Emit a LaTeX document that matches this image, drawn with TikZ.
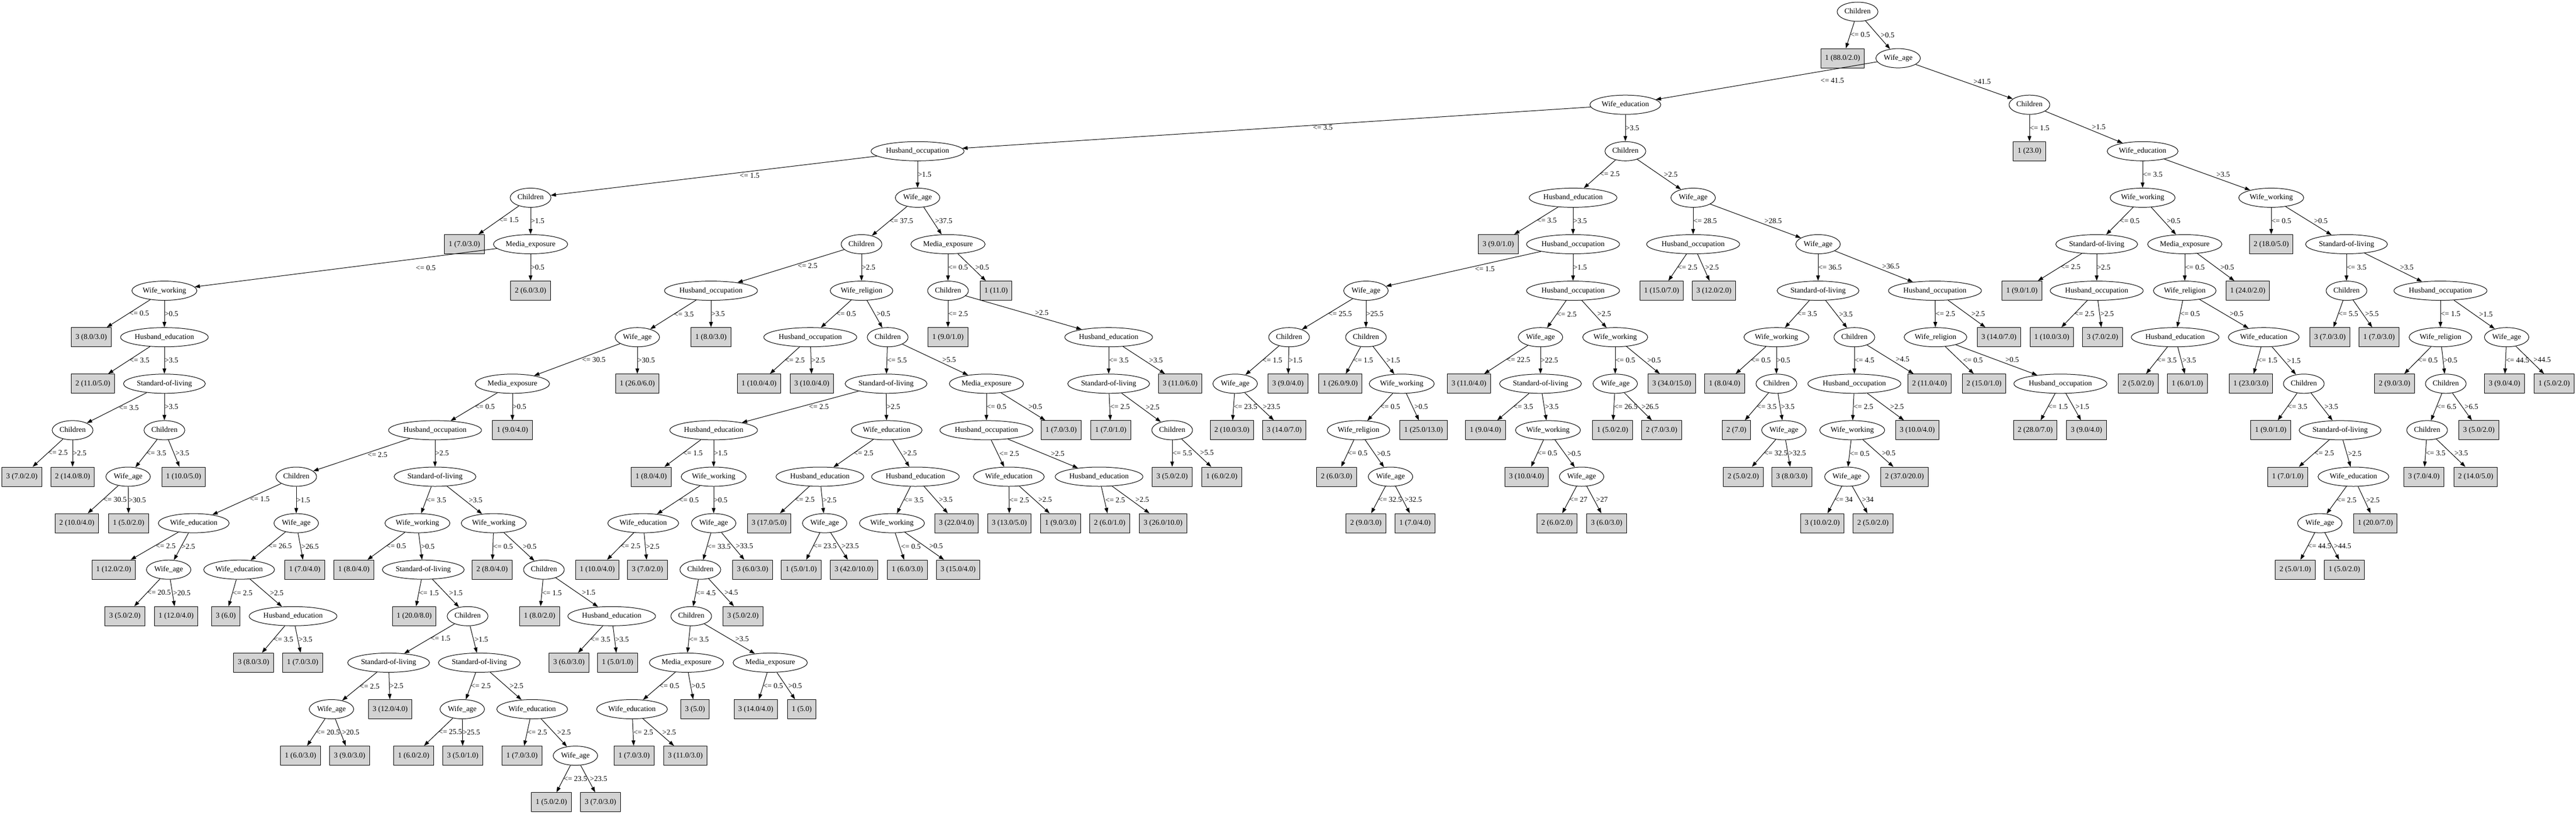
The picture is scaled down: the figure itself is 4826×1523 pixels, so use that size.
\documentclass[tikz,border=0pt]{standalone}
\usepackage{fontspec}
\setmainfont{Liberation Serif}
\usetikzlibrary{shapes.geometric,arrows.meta,calc}

\definecolor{leafgray}{RGB}{211,211,211}
\newcommand\tnfont{\fontsize{14}{16}\selectfont}
% test node, leaf, branch (label shifted clear of the line) and branch with a fixed shift
\newcommand\dnode[4]{\node[attr] (#1) at (#2,#3) {#4};}
\newcommand\dleaf[4]{\node[leafbox] (#1) at (#2,#3) {#4};}
\newcommand\brn[3]{\draw[branch] let \p1=(#1.center), \p2=(#2.center), \n2={\x2-\x1}, \n3={abs(\y2-\y1)},
  \n1={ifthenelse((\n2)>0, 6*(\n2)/(\n3), max(0, 7*(-(\n2))/(\n3)-10))} in
  (#1) -- node[cond, midway, xshift=\n1] {#3} (#2);}
\newcommand\brnx[4]{\draw[branch] (#2) -- node[cond, midway, xshift=#1pt] {#4} (#3);}

\begin{document}
\begin{tikzpicture}[x=1pt, y=-87.1pt,
  attr/.style={ellipse, draw, line width=1pt, minimum height=36pt, inner xsep=2.5pt, inner ysep=2pt,
    text height=10pt, text depth=3pt, font=\tnfont},
  leafbox/.style={rectangle, draw, line width=1pt, fill=leafgray, minimum height=36pt, inner xsep=8pt,
    text height=10pt, text depth=3pt, font=\tnfont},
  cond/.style={anchor=west, inner sep=0pt, font=\tnfont},
  branch/.style={line width=1pt, -{Triangle[length=10pt, width=7pt]}}]
\path[use as bounding box, fill=white] (0pt,0pt) rectangle (4826pt,-1523pt);
\begin{scope}[yshift=-22pt]
\dnode{n1}{3480}{0}{Children}
\dleaf{n2}{3452}{1}{1 (88.0/2.0)} \brn{n1}{n2}{<= 0.5}
\dnode{n3}{3556}{1}{Wife\_age} \brn{n1}{n3}{>0.5}
\dnode{n4}{3045}{2}{Wife\_education} \brnx{101}{n3}{n4}{<= 41.5}
\dnode{n5}{1719}{3}{Husband\_occupation} \brnx{68}{n4}{n5}{<= 3.5}
% Wife_education <= 3.5
\dnode{n6}{994}{4}{Children} \brn{n5}{n6}{<= 1.5}
\dleaf{n7}{870}{5}{1 (7.0/3.0)} \brn{n6}{n7}{<= 1.5}
\dnode{n8}{994}{5}{Media\_exposure} \brn{n6}{n8}{>1.5}
\dnode{n9}{308}{6}{Wife\_working} \brnx{131}{n8}{n9}{<= 0.5}
\dleaf{n10}{171}{7}{3 (8.0/3.0)} \brn{n9}{n10}{<= 0.5}
\dnode{n11}{308}{7}{Husband\_education} \brn{n9}{n11}{>0.5}
\dleaf{n12}{174}{8}{2 (11.0/5.0)} \brn{n11}{n12}{<= 3.5}
\dnode{n13}{308}{8}{Standard-of-living} \brn{n11}{n13}{>3.5}
\dnode{n14}{136}{9}{Children} \brn{n13}{n14}{<= 3.5}
\dleaf{n15}{41}{10}{3 (7.0/2.0)} \brn{n14}{n15}{<= 2.5}
\dleaf{n16}{136}{10}{2 (14.0/8.0)} \brn{n14}{n16}{>2.5}
\dnode{n17}{308}{9}{Children} \brn{n13}{n17}{>3.5}
\dnode{n18}{240}{10}{Wife\_age} \brn{n17}{n18}{<= 3.5}
\dleaf{n19}{144}{11}{2 (10.0/4.0)} \brn{n18}{n19}{<= 30.5}
\dleaf{n20}{241}{11}{1 (5.0/2.0)} \brn{n18}{n20}{>30.5}
\dleaf{n21}{344}{10}{1 (10.0/5.0)} \brn{n17}{n21}{>3.5}
\dleaf{n22}{994}{6}{2 (6.0/3.0)} \brn{n8}{n22}{>0.5}
\dnode{n23}{1719}{4}{Wife\_age} \brn{n5}{n23}{>1.5}
\dnode{n24}{1614}{5}{Children} \brn{n23}{n24}{<= 37.5}
\dnode{n25}{1332}{6}{Husband\_occupation} \brn{n24}{n25}{<= 2.5}
\dnode{n26}{1194}{7}{Wife\_age} \brn{n25}{n26}{<= 3.5}
\dnode{n27}{960}{8}{Media\_exposure} \brn{n26}{n27}{<= 30.5}
\dnode{n28}{815}{9}{Husband\_occupation} \brn{n27}{n28}{<= 0.5}
\dnode{n29}{555}{10}{Children} \brn{n28}{n29}{<= 2.5}
\dnode{n30}{363}{11}{Wife\_education} \brn{n29}{n30}{<= 1.5}
\dleaf{n31}{213}{12}{1 (12.0/2.0)} \brn{n30}{n31}{<= 2.5}
\dnode{n32}{316}{12}{Wife\_age} \brn{n30}{n32}{>2.5}
\dleaf{n33}{234}{13}{3 (5.0/2.0)} \brn{n32}{n33}{<= 20.5}
\dleaf{n34}{330}{13}{1 (12.0/4.0)} \brn{n32}{n34}{>20.5}
\dnode{n35}{555}{11}{Wife\_age} \brn{n29}{n35}{>1.5}
\dnode{n36}{448}{12}{Wife\_education} \brn{n35}{n36}{<= 26.5}
\dleaf{n37}{423}{13}{3 (6.0)} \brn{n36}{n37}{<= 2.5}
\dnode{n38}{549}{13}{Husband\_education} \brn{n36}{n38}{>2.5}
\dleaf{n39}{475}{14}{3 (8.0/3.0)} \brn{n38}{n39}{<= 3.5}
\dleaf{n40}{567}{14}{1 (7.0/3.0)} \brn{n38}{n40}{>3.5}
\dleaf{n41}{571}{12}{1 (7.0/4.0)} \brn{n35}{n41}{>26.5}
\dnode{n42}{815}{10}{Standard-of-living} \brn{n28}{n42}{>2.5}
\dnode{n43}{782}{11}{Wife\_working} \brn{n42}{n43}{<= 3.5}
\dleaf{n44}{663}{12}{1 (8.0/4.0)} \brn{n43}{n44}{<= 0.5}
\dnode{n45}{793}{12}{Standard-of-living} \brn{n43}{n45}{>0.5}
\dleaf{n46}{776}{13}{1 (20.0/8.0)} \brn{n45}{n46}{<= 1.5}
\dnode{n47}{876}{13}{Children} \brn{n45}{n47}{>1.5}
\dnode{n48}{728}{14}{Standard-of-living} \brn{n47}{n48}{<= 1.5}
\dnode{n49}{621}{15}{Wife\_age} \brn{n48}{n49}{<= 2.5}
\dleaf{n50}{563}{16}{1 (6.0/3.0)} \brn{n49}{n50}{<= 20.5}
\dleaf{n51}{655}{16}{3 (9.0/3.0)} \brn{n49}{n51}{>20.5}
\dleaf{n52}{731}{15}{3 (12.0/4.0)} \brn{n48}{n52}{>2.5}
\dnode{n53}{898}{14}{Standard-of-living} \brn{n47}{n53}{>1.5}
\dnode{n54}{866}{15}{Wife\_age} \brn{n53}{n54}{<= 2.5}
\dleaf{n55}{775}{16}{1 (6.0/2.0)} \brn{n54}{n55}{<= 25.5}
\dleaf{n56}{867}{16}{3 (5.0/1.0)} \brn{n54}{n56}{>25.5}
\dnode{n57}{997}{15}{Wife\_education} \brn{n53}{n57}{>2.5}
\dleaf{n58}{978}{16}{1 (7.0/3.0)} \brn{n57}{n58}{<= 2.5}
\dnode{n59}{1078}{16}{Wife\_age} \brn{n57}{n59}{>2.5}
\dleaf{n60}{1033}{17}{1 (5.0/2.0)} \brn{n59}{n60}{<= 23.5}
\dleaf{n61}{1125}{17}{3 (7.0/3.0)} \brn{n59}{n61}{>23.5}
\dnode{n62}{925}{11}{Wife\_working} \brn{n42}{n62}{>3.5}
\dleaf{n63}{922}{12}{2 (8.0/4.0)} \brn{n62}{n63}{<= 0.5}
\dnode{n64}{1019}{12}{Children} \brn{n62}{n64}{>0.5}
\dleaf{n65}{1011}{13}{1 (8.0/2.0)} \brn{n64}{n65}{<= 1.5}
\dnode{n66}{1146}{13}{Husband\_education} \brn{n64}{n66}{>1.5}
\dleaf{n67}{1066}{14}{3 (6.0/3.0)} \brn{n66}{n67}{<= 3.5}
\dleaf{n68}{1157}{14}{1 (5.0/1.0)} \brn{n66}{n68}{>3.5}
\dleaf{n69}{960}{9}{1 (9.0/4.0)} \brn{n27}{n69}{>0.5}
\dleaf{n70}{1194}{8}{1 (26.0/6.0)} \brn{n26}{n70}{>30.5}
\dleaf{n71}{1332}{7}{1 (8.0/3.0)} \brn{n25}{n71}{>3.5}
\dnode{n72}{1614}{6}{Wife\_religion} \brn{n24}{n72}{>2.5}
\dnode{n73}{1518}{7}{Husband\_occupation} \brn{n72}{n73}{<= 0.5}
\dleaf{n74}{1422}{8}{1 (10.0/4.0)} \brn{n73}{n74}{<= 2.5}
\dleaf{n75}{1521}{8}{3 (10.0/4.0)} \brn{n73}{n75}{>2.5}
\dnode{n76}{1663}{7}{Children} \brn{n72}{n76}{>0.5}
\dnode{n77}{1660}{8}{Standard-of-living} \brn{n76}{n77}{<= 5.5}
\dnode{n78}{1337}{9}{Husband\_education} \brn{n77}{n78}{<= 2.5}
\dleaf{n79}{1220}{10}{1 (8.0/4.0)} \brn{n78}{n79}{<= 1.5}
\dnode{n80}{1337}{10}{Wife\_working} \brn{n78}{n80}{>1.5}
\dnode{n81}{1205}{11}{Wife\_education} \brn{n80}{n81}{<= 0.5}
\dleaf{n82}{1119}{12}{1 (10.0/4.0)} \brn{n81}{n82}{<= 2.5}
\dleaf{n83}{1213}{12}{3 (7.0/2.0)} \brn{n81}{n83}{>2.5}
\dnode{n84}{1337}{11}{Wife\_age} \brn{n80}{n84}{>0.5}
\dnode{n85}{1312}{12}{Children} \brn{n84}{n85}{<= 33.5}
\dnode{n86}{1295}{13}{Children} \brn{n85}{n86}{<= 4.5}
\dnode{n87}{1286}{14}{Media\_exposure} \brn{n86}{n87}{<= 3.5}
\dnode{n88}{1184}{15}{Wife\_education} \brn{n87}{n88}{<= 0.5}
\dleaf{n89}{1188}{16}{1 (7.0/3.0)} \brn{n88}{n89}{<= 2.5}
\dleaf{n90}{1284}{16}{3 (11.0/3.0)} \brn{n88}{n90}{>2.5}
\dleaf{n91}{1302}{15}{3 (5.0)} \brn{n87}{n91}{>0.5}
\dnode{n92}{1443}{14}{Media\_exposure} \brn{n86}{n92}{>3.5}
\dleaf{n93}{1416}{15}{3 (14.0/4.0)} \brn{n92}{n93}{<= 0.5}
\dleaf{n94}{1502}{15}{1 (5.0)} \brn{n92}{n94}{>0.5}
\dleaf{n95}{1392}{13}{3 (5.0/2.0)} \brn{n85}{n95}{>4.5}
\dleaf{n96}{1410}{12}{3 (6.0/3.0)} \brn{n84}{n96}{>33.5}
\dnode{n97}{1661}{9}{Wife\_education} \brn{n77}{n97}{>2.5}
\dnode{n98}{1536}{10}{Husband\_education} \brn{n97}{n98}{<= 2.5}
\dleaf{n99}{1441}{11}{3 (17.0/5.0)} \brn{n98}{n99}{<= 2.5}
\dnode{n100}{1545}{11}{Wife\_age} \brn{n98}{n100}{>2.5}
\dleaf{n101}{1501}{12}{1 (5.0/1.0)} \brn{n100}{n101}{<= 23.5}
\dleaf{n102}{1600}{12}{3 (42.0/10.0)} \brn{n100}{n102}{>23.5}
\dnode{n103}{1715}{10}{Husband\_education} \brn{n97}{n103}{>2.5}
\dnode{n104}{1671}{11}{Wife\_working} \brn{n103}{n104}{<= 3.5}
\dleaf{n105}{1700}{12}{1 (6.0/3.0)} \brn{n104}{n105}{<= 0.5}
\dleaf{n106}{1795}{12}{3 (15.0/4.0)} \brn{n104}{n106}{>0.5}
\dleaf{n107}{1792}{11}{3 (22.0/4.0)} \brn{n103}{n107}{>3.5}
\dnode{n108}{1848}{8}{Media\_exposure} \brn{n76}{n108}{>5.5}
\dnode{n109}{1848}{9}{Husband\_occupation} \brn{n108}{n109}{<= 0.5}
\dnode{n110}{1890}{10}{Wife\_education} \brn{n109}{n110}{<= 2.5}
\dleaf{n111}{1891}{11}{3 (13.0/5.0)} \brn{n110}{n111}{<= 2.5}
\dleaf{n112}{1987}{11}{1 (9.0/3.0)} \brn{n110}{n112}{>2.5}
\dnode{n113}{2059}{10}{Husband\_education} \brn{n109}{n113}{>2.5}
\dleaf{n114}{2079}{11}{2 (6.0/1.0)} \brn{n113}{n114}{<= 2.5}
\dleaf{n115}{2179}{11}{3 (26.0/10.0)} \brn{n113}{n115}{>2.5}
\dleaf{n116}{1988}{9}{1 (7.0/3.0)} \brn{n108}{n116}{>0.5}
\dnode{n117}{1776}{5}{Media\_exposure} \brn{n23}{n117}{>37.5}
\dnode{n118}{1776}{6}{Children} \brn{n117}{n118}{<= 0.5}
\dleaf{n119}{1776}{7}{1 (9.0/1.0)} \brn{n118}{n119}{<= 2.5}
\dnode{n120}{2077}{7}{Husband\_education} \brn{n118}{n120}{>2.5}
\dnode{n121}{2077}{8}{Standard-of-living} \brn{n120}{n121}{<= 3.5}
\dleaf{n122}{2081}{9}{1 (7.0/1.0)} \brn{n121}{n122}{<= 2.5}
\dnode{n123}{2196}{9}{Children} \brn{n121}{n123}{>2.5}
\dleaf{n124}{2196}{10}{3 (5.0/2.0)} \brn{n123}{n124}{<= 5.5}
\dleaf{n125}{2289}{10}{1 (6.0/2.0)} \brn{n123}{n125}{>5.5}
\dleaf{n126}{2211}{8}{3 (11.0/6.0)} \brn{n120}{n126}{>3.5}
\dleaf{n127}{1866}{6}{1 (11.0)} \brn{n117}{n127}{>0.5}
% Wife_education > 3.5
\dnode{n128}{3045}{3}{Children} \brn{n4}{n128}{>3.5}
\dnode{n129}{2947}{4}{Husband\_education} \brn{n128}{n129}{<= 2.5}
\dleaf{n130}{2807}{5}{3 (9.0/1.0)} \brn{n129}{n130}{<= 3.5}
\dnode{n131}{2947}{5}{Husband\_occupation} \brn{n129}{n131}{>3.5}
\dnode{n132}{2559}{6}{Wife\_age} \brn{n131}{n132}{<= 1.5}
\dnode{n133}{2415}{7}{Children} \brn{n132}{n133}{<= 25.5}
\dnode{n134}{2314}{8}{Wife\_age} \brn{n133}{n134}{<= 1.5}
\dleaf{n135}{2308}{9}{2 (10.0/3.0)} \brn{n134}{n135}{<= 23.5}
\dleaf{n136}{2406}{9}{3 (14.0/7.0)} \brn{n134}{n136}{>23.5}
\dleaf{n137}{2413}{8}{3 (9.0/4.0)} \brn{n133}{n137}{>1.5}
\dnode{n138}{2559}{7}{Children} \brn{n132}{n138}{>25.5}
\dleaf{n139}{2511}{8}{1 (26.0/9.0)} \brn{n138}{n139}{<= 1.5}
\dnode{n140}{2626}{8}{Wife\_working} \brn{n138}{n140}{>1.5}
\dnode{n141}{2545}{9}{Wife\_religion} \brn{n140}{n141}{<= 0.5}
\dleaf{n142}{2504}{10}{2 (6.0/3.0)} \brn{n141}{n142}{<= 0.5}
\dnode{n143}{2605}{10}{Wife\_age} \brn{n141}{n143}{>0.5}
\dleaf{n144}{2559}{11}{2 (9.0/3.0)} \brn{n143}{n144}{<= 32.5}
\dleaf{n145}{2651}{11}{1 (7.0/4.0)} \brn{n143}{n145}{>32.5}
\dleaf{n146}{2667}{9}{1 (25.0/13.0)} \brn{n140}{n146}{>0.5}
\dnode{n147}{2947}{6}{Husband\_occupation} \brn{n131}{n147}{>1.5}
\dnode{n148}{2886}{7}{Wife\_age} \brn{n147}{n148}{<= 2.5}
\dleaf{n149}{2752}{8}{3 (11.0/4.0)} \brn{n148}{n149}{<= 22.5}
\dnode{n150}{2886}{8}{Standard-of-living} \brn{n148}{n150}{>22.5}
\dleaf{n151}{2783}{9}{1 (9.0/4.0)} \brn{n150}{n151}{<= 3.5}
\dnode{n152}{2900}{9}{Wife\_working} \brn{n150}{n152}{>3.5}
\dleaf{n153}{2860}{10}{3 (10.0/4.0)} \brn{n152}{n153}{<= 0.5}
\dnode{n154}{2963}{10}{Wife\_age} \brn{n152}{n154}{>0.5}
\dleaf{n155}{2917}{11}{2 (6.0/2.0)} \brn{n154}{n155}{<= 27}
\dleaf{n156}{3010}{11}{3 (6.0/3.0)} \brn{n154}{n156}{>27}
\dnode{n157}{3026}{7}{Wife\_working} \brn{n147}{n157}{>2.5}
\dnode{n158}{3026}{8}{Wife\_age} \brn{n157}{n158}{<= 0.5}
\dleaf{n159}{3021}{9}{1 (5.0/2.0)} \brn{n158}{n159}{<= 26.5}
\dleaf{n160}{3113}{9}{2 (7.0/3.0)} \brn{n158}{n160}{>26.5}
\dleaf{n161}{3132}{8}{3 (34.0/15.0)} \brn{n157}{n161}{>0.5}
\dnode{n162}{3172}{4}{Wife\_age} \brn{n128}{n162}{>2.5}
\dnode{n163}{3172}{5}{Husband\_occupation} \brn{n162}{n163}{<= 28.5}
\dleaf{n164}{3113}{6}{1 (15.0/7.0)} \brn{n163}{n164}{<= 2.5}
\dleaf{n165}{3211}{6}{3 (12.0/2.0)} \brn{n163}{n165}{>2.5}
\dnode{n166}{3406}{5}{Wife\_age} \brn{n162}{n166}{>28.5}
\dnode{n167}{3406}{6}{Standard-of-living} \brn{n166}{n167}{<= 36.5}
\dnode{n168}{3328}{7}{Wife\_working} \brn{n167}{n168}{<= 3.5}
\dleaf{n169}{3231}{8}{1 (8.0/4.0)} \brn{n168}{n169}{<= 0.5}
\dnode{n170}{3328}{8}{Children} \brn{n168}{n170}{>0.5}
\dleaf{n171}{3253}{9}{2 (7.0)} \brn{n170}{n171}{<= 3.5}
\dnode{n172}{3342}{9}{Wife\_age} \brn{n170}{n172}{>3.5}
\dleaf{n173}{3266}{10}{2 (5.0/2.0)} \brn{n172}{n173}{<= 32.5}
\dleaf{n174}{3357}{10}{3 (8.0/3.0)} \brn{n172}{n174}{>32.5}
\dnode{n175}{3474}{7}{Children} \brn{n167}{n175}{>3.5}
\dnode{n176}{3474}{8}{Husband\_occupation} \brn{n175}{n176}{<= 4.5}
\dnode{n177}{3470}{9}{Wife\_working} \brn{n176}{n177}{<= 2.5}
\dnode{n178}{3460}{10}{Wife\_age} \brn{n177}{n178}{<= 0.5}
\dleaf{n179}{3414}{11}{3 (10.0/2.0)} \brn{n178}{n179}{<= 34}
\dleaf{n180}{3509}{11}{2 (5.0/2.0)} \brn{n178}{n180}{>34}
\dleaf{n181}{3568}{10}{2 (37.0/20.0)} \brn{n177}{n181}{>0.5}
\dleaf{n182}{3592}{9}{3 (10.0/4.0)} \brn{n176}{n182}{>2.5}
\dleaf{n183}{3615}{8}{2 (11.0/4.0)} \brn{n175}{n183}{>4.5}
\dnode{n184}{3625}{6}{Husband\_occupation} \brn{n166}{n184}{>36.5}
\dnode{n185}{3626}{7}{Wife\_religion} \brn{n184}{n185}{<= 2.5}
\dleaf{n186}{3717}{8}{2 (15.0/1.0)} \brn{n185}{n186}{<= 0.5}
\dnode{n187}{3860}{8}{Husband\_occupation} \brn{n185}{n187}{>0.5}
\dleaf{n188}{3813}{9}{2 (28.0/7.0)} \brn{n187}{n188}{<= 1.5}
\dleaf{n189}{3909}{9}{3 (9.0/4.0)} \brn{n187}{n189}{>1.5}
\dleaf{n190}{3745}{7}{3 (14.0/7.0)} \brn{n184}{n190}{>2.5}
% Wife_age > 41.5
\dnode{n191}{3802}{2}{Children} \brn{n3}{n191}{>41.5}
\dleaf{n192}{3802}{3}{1 (23.0)} \brn{n191}{n192}{<= 1.5}
\dnode{n193}{4014}{3}{Wife\_education} \brn{n191}{n193}{>1.5}
\dnode{n194}{4014}{4}{Wife\_working} \brn{n193}{n194}{<= 3.5}
\dnode{n195}{3928}{5}{Standard-of-living} \brn{n194}{n195}{<= 0.5}
\dleaf{n196}{3788}{6}{1 (9.0/1.0)} \brn{n195}{n196}{<= 2.5}
\dnode{n197}{3928}{6}{Husband\_occupation} \brn{n195}{n197}{>2.5}
\dleaf{n198}{3844}{7}{1 (10.0/3.0)} \brn{n197}{n198}{<= 2.5}
\dleaf{n199}{3939}{7}{3 (7.0/2.0)} \brn{n197}{n199}{>2.5}
\dnode{n200}{4093}{5}{Media\_exposure} \brn{n194}{n200}{>0.5}
\dnode{n201}{4093}{6}{Wife\_religion} \brn{n200}{n201}{<= 0.5}
\dnode{n202}{4075}{7}{Husband\_education} \brn{n201}{n202}{<= 0.5}
\dleaf{n203}{4006}{8}{2 (5.0/2.0)} \brn{n202}{n203}{<= 3.5}
\dleaf{n204}{4098}{8}{1 (6.0/1.0)} \brn{n202}{n204}{>3.5}
\dnode{n205}{4241}{7}{Wife\_education} \brn{n201}{n205}{>0.5}
\dleaf{n206}{4217}{8}{1 (23.0/3.0)} \brn{n205}{n206}{<= 1.5}
\dnode{n207}{4316}{8}{Children} \brn{n205}{n207}{>1.5}
\dleaf{n208}{4254}{9}{1 (9.0/1.0)} \brn{n207}{n208}{<= 3.5}
\dnode{n209}{4384}{9}{Standard-of-living} \brn{n207}{n209}{>3.5}
\dleaf{n210}{4286}{10}{1 (7.0/1.0)} \brn{n209}{n210}{<= 2.5}
\dnode{n211}{4409}{10}{Wife\_education} \brn{n209}{n211}{>2.5}
\dnode{n212}{4346}{11}{Wife\_age} \brn{n211}{n212}{<= 2.5}
\dleaf{n213}{4300}{12}{2 (5.0/1.0)} \brn{n212}{n213}{<= 44.5}
\dleaf{n214}{4392}{12}{1 (5.0/2.0)} \brn{n212}{n214}{>44.5}
\dleaf{n215}{4450}{11}{1 (20.0/7.0)} \brn{n211}{n215}{>2.5}
\dleaf{n216}{4211}{6}{1 (24.0/2.0)} \brn{n200}{n216}{>0.5}
\dnode{n217}{4255}{4}{Wife\_working} \brn{n193}{n217}{>3.5}
\dleaf{n218}{4255}{5}{2 (18.0/5.0)} \brn{n217}{n218}{<= 0.5}
\dnode{n219}{4396}{5}{Standard-of-living} \brn{n217}{n219}{>0.5}
\dnode{n220}{4396}{6}{Children} \brn{n219}{n220}{<= 3.5}
\dleaf{n221}{4365}{7}{3 (7.0/3.0)} \brn{n220}{n221}{<= 5.5}
\dleaf{n222}{4457}{7}{1 (7.0/3.0)} \brn{n220}{n222}{>5.5}
\dnode{n223}{4572}{6}{Husband\_occupation} \brn{n219}{n223}{>3.5}
\dnode{n224}{4572}{7}{Wife\_religion} \brn{n223}{n224}{<= 1.5}
\dleaf{n225}{4486}{8}{2 (9.0/3.0)} \brn{n224}{n225}{<= 0.5}
\dnode{n226}{4582}{8}{Children} \brn{n224}{n226}{>0.5}
\dnode{n227}{4547}{9}{Children} \brn{n226}{n227}{<= 6.5}
\dleaf{n228}{4541}{10}{3 (7.0/4.0)} \brn{n227}{n228}{<= 3.5}
\dleaf{n229}{4638}{10}{2 (14.0/5.0)} \brn{n227}{n229}{>3.5}
\dleaf{n230}{4644}{9}{3 (5.0/2.0)} \brn{n226}{n230}{>6.5}
\dnode{n231}{4696}{7}{Wife\_age} \brn{n223}{n231}{>1.5}
\dleaf{n232}{4692}{8}{3 (9.0/4.0)} \brn{n231}{n232}{<= 44.5}
\dleaf{n233}{4785}{8}{1 (5.0/2.0)} \brn{n231}{n233}{>44.5}
\end{scope}
\end{tikzpicture}
\end{document}
